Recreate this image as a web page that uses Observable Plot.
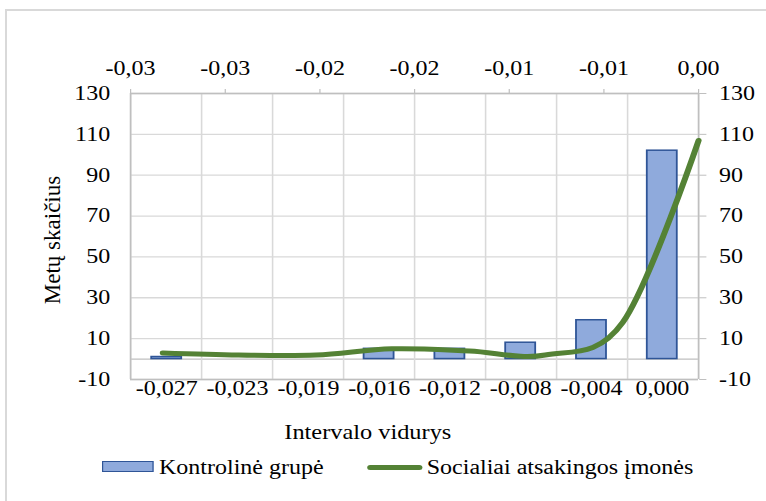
<!DOCTYPE html>
<html><head><meta charset="utf-8">
<script src="https://cdn.jsdelivr.net/npm/d3@7"></script>
<script src="https://cdn.jsdelivr.net/npm/@observablehq/plot@0.6"></script>
<style>
html,body{margin:0;padding:0;background:#fff;}
#outer{position:relative;width:766px;height:501px;overflow:hidden;background:#fff;font-family:"Liberation Serif","Times New Roman",serif;color:#000;}
#frame{position:absolute;left:5px;top:9px;width:800px;height:600px;border:2px solid #d9d9d9;box-sizing:border-box;}
#inner{position:absolute;left:0;top:0;width:638.33px;height:501px;transform:scaleX(1.2);transform-origin:0 0;font-size:20px;}
.layer{position:absolute;left:0;top:0;}
#ytitle{position:absolute;left:53px;top:240px;transform:translate(-50%,-50%) rotate(-90deg);white-space:nowrap;line-height:24px;font-size:23px;}
#xtitle{position:absolute;left:306.5px;top:432px;transform:translate(-50%,-50%);white-space:nowrap;line-height:24px;font-size:20.3px;}
#legend{position:absolute;left:0;top:455px;width:638px;height:24px;font-size:20px;}
.lg{position:absolute;top:0;line-height:24px;white-space:nowrap;}
.sw-bar{position:absolute;left:84.7px;top:6px;width:43.6px;height:11px;background:#8faadc;border:1.5px solid #2f5597;box-sizing:border-box;}
.sw-line{position:absolute;left:306px;top:9.5px;width:46px;height:5px;background:#548235;border-radius:3px;}
</style></head><body>
<div id="outer">
  <div id="frame"></div>
  <div id="inner">
    <div id="bars" class="layer"></div>
    <div id="line" class="layer"></div>
    <div id="xtitle">Intervalo vidurys</div>
    <div id="legend">
      <div class="sw-bar"></div><div class="lg" style="left:132.5px">Kontrolinė grupė</div>
      <div class="sw-line"></div><div class="lg" style="left:355.6px">Socialiai atsakingos įmonės</div>
    </div>
  </div>
  <div id="ytitle">Metų skaičius</div>
</div>
<script>
// ---- data ----
const categories = ["-0,027","-0,023","-0,019","-0,016","-0,012","-0,008","-0,004","0,000"];
const controlCounts = [1, 0, 0, 5, 5, 8, 19, 102];
const socialX = [-0.0283, -0.0243, -0.0202, -0.0162, -0.0121, -0.0081, -0.0040, 0.0000];
const socialCounts = [3, 2, 2, 5, 4, 2, 18, 107];
const yTicks = [-10, 10, 30, 50, 70, 90, 110, 130];
const topTicks = [-0.03, -0.025, -0.02, -0.015, -0.01, -0.005, 0];
const topTickLabels = ["-0,03","-0,03","-0,02","-0,02","-0,01","-0,01","0,00"];

// ---- layout ----
const SX = 1.2;
const W = 766 / SX;
const H = 420;
const mL = 130 / SX, mR = W - 698 / SX, mT = 93, mB = H - 379;
const grid = "#d9d9d9", axisCol = "#bfbfbf";
const fontStyle = {fontFamily: '"Liberation Serif","Times New Roman",serif', fontSize: "20px", color: "#000", background: "transparent", overflow: "visible"};
const yFmt = d => String(d);
const bandX = {type: "band", domain: categories, paddingInner: 0.58, paddingOuter: 0.29};

const barData = categories.map((c, i) => ({cat: c, v: controlCounts[i]}));
const lineData = socialX.map((x, i) => ({x, v: socialCounts[i]}));
const bounds = d3.range(categories.length + 1).map(i => topTicks[0] + i * (topTicks[topTicks.length - 1] - topTicks[0]) / categories.length);

function layer(plot) {
  const d = document.createElement("div");
  d.className = "layer";
  d.appendChild(plot);
  document.getElementById("inner").insertBefore(d, document.getElementById("xtitle"));
}

// grid + primary axes (band categories, left y)
layer(Plot.plot({
  width: W, height: H, marginLeft: mL, marginRight: mR, marginTop: mT, marginBottom: mB,
  style: fontStyle,
  x: bandX,
  y: {domain: [-10, 130]},
  marks: [
    Plot.ruleY(yTicks, {stroke: grid, strokeWidth: 1.3}),
    Plot.ruleY([0], {stroke: axisCol, strokeWidth: 1.3}),
    Plot.axisX({anchor: "bottom", tickSize: 0, tickPadding: 1, label: null}),
    Plot.axisY({anchor: "left", ticks: yTicks, tickFormat: yFmt, tickSize: 0, tickPadding: 17, label: null}),
  ]
}));

// secondary axes (linear x on top, right y)
layer(Plot.plot({
  width: W, height: H, marginLeft: mL, marginRight: mR, marginTop: mT, marginBottom: mB,
  style: fontStyle,
  x: {domain: [topTicks[0], topTicks[topTicks.length - 1]]},
  y: {domain: [-10, 130]},
  marks: [
    Plot.ruleX(bounds, {stroke: grid, strokeWidth: 1.3}),
    Plot.ruleX([topTicks[0]], {stroke: axisCol, strokeWidth: 1.3}),
    Plot.ruleX([topTicks[topTicks.length - 1]], {stroke: axisCol, strokeWidth: 1.3}),
    Plot.ruleY([130], {stroke: axisCol, strokeWidth: 1.3}),
    Plot.ruleY([-10], {stroke: axisCol, strokeWidth: 1.3}),
    Plot.axisX({anchor: "top", ticks: topTicks, tickFormat: (d, i) => topTickLabels[i], tickSize: 5, tickPadding: 13, stroke: axisCol, label: null}),
    Plot.axisY({anchor: "right", ticks: yTicks, tickFormat: yFmt, tickSize: 6, tickPadding: 11, stroke: axisCol, label: null}),
  ]
}));

// bars (Kontrolinė grupė)
layer(Plot.plot({
  width: W, height: H, marginLeft: mL, marginRight: mR, marginTop: mT, marginBottom: mB,
  style: fontStyle,
  x: {...bandX, axis: null},
  y: {domain: [-10, 130], axis: null},
  marks: [
    Plot.rectY(barData, {x: "cat", y1: 0, y2: "v", fill: "#8faadc", stroke: "#2f5597", strokeWidth: 1.5})
  ]
}));

// smoothed line (Socialiai atsakingos įmonės)
layer(Plot.plot({
  width: W, height: H, marginLeft: mL, marginRight: mR, marginTop: mT, marginBottom: mB,
  style: fontStyle,
  x: {domain: [topTicks[0], topTicks[topTicks.length - 1]], axis: null},
  y: {domain: [-10, 130], axis: null},
  marks: [
    Plot.line(lineData, {x: "x", y: "v", stroke: "#548235", strokeWidth: 5, curve: "cardinal", strokeLinecap: "round"})
  ]
}));
</script>
</body></html>
